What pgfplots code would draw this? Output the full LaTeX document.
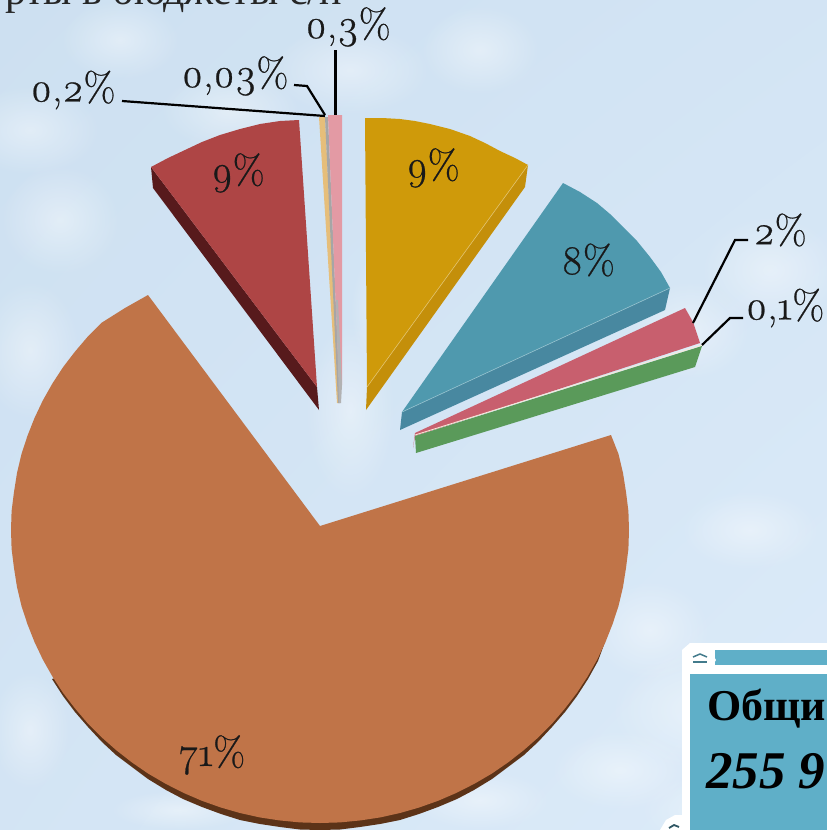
\documentclass[border=0pt]{standalone}
\usepackage{fontspec}
\setmainfont{Latin Modern Roman}[Numbers=OldStyle]
\newfontfamily\cyr{Liberation Serif}
\usepackage{pgfplots}
\usetikzlibrary{shadings,fadings}
\pgfplotsset{compat=1.18}
\definecolor{bgA}{HTML}{CDE0F1}
\definecolor{bgB}{HTML}{DCEBF9}
\definecolor{cOrange}{HTML}{C07448}
\definecolor{cOrangeD}{HTML}{5C3318}
\definecolor{cRed}{HTML}{AE4545}
\definecolor{cRedD}{HTML}{571A1C}
\definecolor{cGold}{HTML}{CF9A0A}
\definecolor{cGoldD}{HTML}{C48F0A}
\definecolor{cTeal}{HTML}{4F99AE}
\definecolor{cTealD}{HTML}{4888A0}
\definecolor{cRose}{HTML}{C85F6E}
\definecolor{cGreen}{HTML}{5A9A5A}
\definecolor{cPink}{HTML}{E39AA4}
\definecolor{cTan}{HTML}{E6BE7A}
\definecolor{cBox}{HTML}{5FAFC8}
\tikzfading[name=soft, inner color=transparent!60, outer color=transparent!100]
\tikzset{lbl/.style={font=\fontsize{41}{41}\selectfont\addfontfeature{FakeBold=0.6}, text=black!90, inner sep=0pt}}
\begin{document}
\begin{tikzpicture}[x=1pt,y=1pt]
\path[use as bounding box] (0,0) rectangle (827,830);
\clip (0,0) rectangle (827,830);
\shade[lower right=bgB, upper left=bgA, lower left=bgA!60!bgB, upper right=bgA!60!bgB] (0,0) rectangle (827,830);
% mottled backdrop
\foreach \px/\py/\pa/\pb in {30/700/70/45, 120/790/60/40, 350/760/80/45, 700/120/90/60, 620/60/70/40,
  480/780/60/45, 770/560/70/55, 690/500/60/50, 350/420/45/90, 380/520/30/60, 230/720/70/40,
  60/610/60/55, 30/480/50/70, 750/300/70/40, 720/20/80/40, 480/30/70/30, 180/20/70/20, 30/100/40/60, 650/200/60/50} {
  \fill[white, path fading=soft] (\px,\py) ellipse ({\pa} and {\pb});
}
\begin{axis}[
  at={(0,0)}, anchor=south west, scale only axis,
  width=827pt, height=830pt,
  xmin=0, xmax=827, ymin=0, ymax=830, y dir=reverse,
  hide axis, clip=false,
]
% 71% slice, side then top
\addplot[fill=cOrangeD, draw=none] coordinates {
  (605,642) (598,661) (588,679) (577,696) (565,712) (552,727) (538,742) (524,755)
  (508,767) (492,779) (474,790) (457,799) (438,807) (419,814) (400,820) (380,824)
  (360,827) (340,829.5) (320,830) (300,829.5) (280,827) (260,824) (240,820) (221,814)
  (202,807) (183,799) (166,790) (148,779) (132,767) (116,755) (102,742) (88,727)
  (75,712) (63,696) (52,679) (320,600)} --cycle;
\addplot[fill=cOrange, draw=none] coordinates {
  (320,526) (611,435) (618.5,454) (623,473) (626,492) (628.4,511) (629,530) (628.4,549)
  (626,568) (623,587) (618.5,606) (612.6,624) (605.5,642) (597.2,659.5) (587.6,676.5) (576.9,692.9)
  (565,708.4) (552.4,723.2) (538.5,737.2) (523.6,750.3) (508.1,762.4) (491.8,773.6) (474.5,783.7) (456.6,792.8)
  (438.3,800.7) (419.2,807.5) (400,813) (380.3,817.4) (360.5,820.4) (340.1,822.4) (320,823) (299.9,822.4)
  (279.5,820.4) (259.7,817.4) (240,813) (220.8,807.5) (201.7,800.7) (183.4,792.8) (165.5,783.7) (148.2,773.6)
  (131.9,762.4) (116.4,750.3) (101.5,737.2) (87.6,723.2) (75,708.4) (63.1,692.9) (52.4,676.5) (42.8,659.5)
  (34.5,642) (27.4,624) (21.5,606) (17,587) (14,568) (11.6,549) (11,530) (11.6,511)
  (14,492) (17,473) (21.5,454) (27.4,436) (34.5,418) (42.8,400.5) (52.4,383.5) (63.1,367.1)
  (75,351.6) (87.6,336.8) (101.5,322.8) (125,308) (148,295)} --cycle;
% 9% red
\addplot[fill=cRedD, draw=none] coordinates {(151,167) (153,188) (319,410) (317,387)} --cycle;
\addplot[fill=cRed, draw=none] coordinates {(317,387) (151,167) (168,158) (185,150) (202,142) (220,135) (240,129) (260,124) (280,121) (299,120)} --cycle;
% thin slices at the top
\addplot[fill=cTan, draw=none] coordinates {(319,117) (325,117) (339,403) (337,403)} --cycle;
\addplot[fill=black!35, draw=none] coordinates {(325,117) (328,117) (340,403) (338,403)} --cycle;
\addplot[fill=cPink, draw=none] coordinates {(328,115) (342,115) (342,385) (338,360)} --cycle;
\addplot[fill=black!30, draw=none] coordinates {(336,300) (338,300) (342,385) (341,403) (339,403)} --cycle;
% 9% gold
\addplot[fill=cGoldD, draw=none] coordinates {(528,165) (525,187) (366,410) (367,387)} --cycle;
\addplot[fill=cGold, draw=none] coordinates {(367,387) (365,118) (382,118) (400,119) (415,121) (430,124) (450,129) (470,136) (485,143) (500,151) (515,158) (528,165)} --cycle;
\addplot[draw=cGold!60!white, line width=0.6pt] coordinates {(367,387) (528,165)};
% 8% teal
\addplot[fill=cTealD, draw=none] coordinates {(670,288) (665,310) (400,430) (402,412)} --cycle;
\addplot[fill=cTeal, draw=none] coordinates {(402,412) (563,183) (580,192) (597,203) (610,214) (623,227) (637,241) (650,257) (661,272) (670,288)} --cycle;
\addplot[draw=cTeal!60!white, line width=0.6pt] coordinates {(402,412) (670,288)};
% 2% rose and 0,1% green
\addplot[fill=cRose, draw=none] coordinates {(415,433) (685,308) (693,322) (700,343) (415,436) (413,448)} --cycle;
\addplot[fill=cGreen, draw=none] coordinates {(415,436) (702,346) (695,367) (416,453)} --cycle;
\addplot[draw=white!70!cTan, line width=0.8pt] coordinates {(415,435) (702,345)};
% leader lines
\addplot[black, line width=2.2pt] coordinates {(335.5,50) (335.5,115)};
\addplot[black, line width=2.2pt] coordinates {(294,85) (307,86) (325,115)};
\addplot[black, line width=2.2pt] coordinates {(122,101) (325,116)};
\addplot[black, line width=2.2pt] coordinates {(748,240) (735,240) (693,323)};
\addplot[black, line width=2.2pt] coordinates {(743,318) (730,318) (702,345)};
% labels
\node[lbl] at (axis cs:348,27) {0,3\%};
\node[lbl] at (axis cs:235,76) {0,03\%};
\node[lbl] at (axis cs:73,90) {0,2\%};
\node[lbl] at (axis cs:780,230) {2\%};
\node[lbl] at (axis cs:785,308) {0,1\%};
\node[lbl] at (axis cs:238,173) {9\%};
\node[lbl] at (axis cs:433,168) {9\%};
\node[lbl] at (axis cs:588,260) {8\%};
\node[lbl] at (axis cs:212,755) {71\%};
\node[anchor=base east, inner sep=0pt, text=black!85, font=\cyr\fontsize{42}{42}\selectfont] at (axis cs:342,4) {рты в бюджеты с/п};
% box
\addplot[fill=white, draw=none] coordinates {(682,650) (690,643) (827,643) (827,830) (682,830)} --cycle;
\addplot[fill=white, draw=none] coordinates {(660,830) (666,820) (675,815) (684,815) (684,830)} --cycle;
\addplot[fill=cBox, draw=none] coordinates {(715,650) (827,650) (827,665) (715,665)} --cycle;
\addplot[fill=cBox, draw=none] coordinates {(690,674) (827,674) (827,830) (690,830)} --cycle;
\addplot[fill=white, draw=none] coordinates {(685,660) (690,650) (700,646) (710,650) (716,660) (710,670) (700,674) (690,670)} --cycle;
\addplot[draw=cBox!70!black, line width=1.5pt] coordinates {(693,657) (700,654) (707,657)};
\addplot[draw=cBox!70!black, line width=1.5pt] coordinates {(693,662) (707,662)};
\addplot[draw=cBox!50!black, line width=1.8pt] coordinates {(669,828) (674,825) (679,827)};
\node[anchor=base west, inner sep=0pt, font=\cyr\bfseries\fontsize{44}{44}\selectfont] at (axis cs:707,720) {Общи};
\node[anchor=base west, inner sep=0pt, font=\cyr\bfseries\itshape\fontsize{53}{53}\selectfont] at (axis cs:706,788) {255 9};
\end{axis}
\end{tikzpicture}
\end{document}
